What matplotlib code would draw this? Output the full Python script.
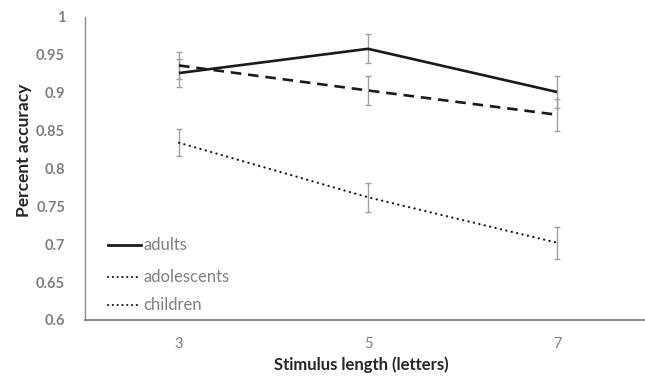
import matplotlib
matplotlib.use("Agg")
import matplotlib.pyplot as plt
from matplotlib.lines import Line2D

categories = ["3", "5", "7"]
adults = [0.926, 0.958, 0.901]
adults_err = [0.018, 0.019, 0.021]
adolescents = [0.936, 0.903, 0.871]
adolescents_err = [0.018, 0.019, 0.021]
children = [0.834, 0.762, 0.702]
children_err = [0.018, 0.019, 0.021]
series_names = ["adults", "adolescents", "children"]
yticks = [0.6, 0.65, 0.7, 0.75, 0.8, 0.85, 0.9, 0.95, 1.0]
ytick_labels = ["0.6", "0.65", "0.7", "0.75", "0.8", "0.85", "0.9", "0.95", "1"]

plt.rcParams['font.family'] = ['Lato', 'DejaVu Sans']

W, H = 645, 379
fig = plt.figure(figsize=(W / 100, H / 100), dpi=100)
left, right, top, bottom = 84.5, 651.5, 17, 320
ax = fig.add_axes([left / W, (H - bottom) / H, (right - left) / W, (bottom - top) / H])

x = [0.5, 1.5, 2.5]
err_kw = dict(fmt='none', ecolor='#a0a0a0', elinewidth=1.0, capsize=2.5, capthick=1.0, zorder=2)
ax.errorbar(x, adults, yerr=adults_err, **err_kw)
ax.errorbar(x, adolescents, yerr=adolescents_err, **err_kw)
ax.errorbar(x, children, yerr=children_err, **err_kw)

lc = '#1a1a1a'
ax.plot(x, adults, color=lc, lw=1.9, ls='-', solid_capstyle='butt', zorder=3)
ax.plot(x, adolescents, color=lc, lw=1.9, ls=(0, (4, 2.6)), dash_capstyle='butt', zorder=3)
ax.plot(x, children, color=lc, lw=1.6, ls=(0, (0.1, 2.4)), dash_capstyle='round', zorder=3)

ax.set_xlim(0, 3)
ax.set_ylim(0.6, 1.0)
ax.set_xticks(x)
ax.set_xticklabels(categories, color='#7f7f7f', fontsize=10.5)
ax.set_yticks(yticks)
ax.set_yticklabels(ytick_labels, color='#7f7f7f', fontsize=10.5, fontweight='bold')
ax.tick_params(axis='both', length=0)
ax.tick_params(axis='x', pad=12)
ax.tick_params(axis='y', pad=14)

for s in ['top', 'right']:
    ax.spines[s].set_visible(False)
ax.spines['left'].set_color('#8c8c8c')
ax.spines['left'].set_linewidth(1.0)
ax.spines['bottom'].set_color('#808080')
ax.spines['bottom'].set_linewidth(1.3)

ax.set_ylabel("Percent accuracy", fontsize=12.5, fontweight='bold', color='#262626')
ax.yaxis.set_label_coords((24 - left) / (right - left), (bottom - 150) / (bottom - top))
ax.set_xlabel("Stimulus length (letters)", fontsize=12, fontweight='bold', color='#262626')
ax.xaxis.set_label_coords((361 - left) / (right - left), -(365 - bottom) / (bottom - top))
ax.xaxis.label.set_verticalalignment('center')
ax.yaxis.label.set_verticalalignment('center')

# Legend (as in the original: both lower entries drawn with dotted keys)
leg_styles = [
    dict(lw=2.0, ls='-'),
    dict(lw=1.5, ls=(0, (0.1, 2.2)), dash_capstyle='round'),
    dict(lw=1.5, ls=(0, (0.1, 2.2)), dash_capstyle='round'),
]
leg_rows = [245, 276.5, 305]
for name, st, yy in zip(series_names, leg_styles, leg_rows):
    yf = (H - yy) / H
    fig.add_artist(Line2D([108 / W, 141 / W], [yf, yf], color=lc, **st))
    fig.text(143 / W, yf, name, fontsize=12, color='#7f7f7f', va='center', ha='left')

fig.savefig("out.png", dpi=100)
